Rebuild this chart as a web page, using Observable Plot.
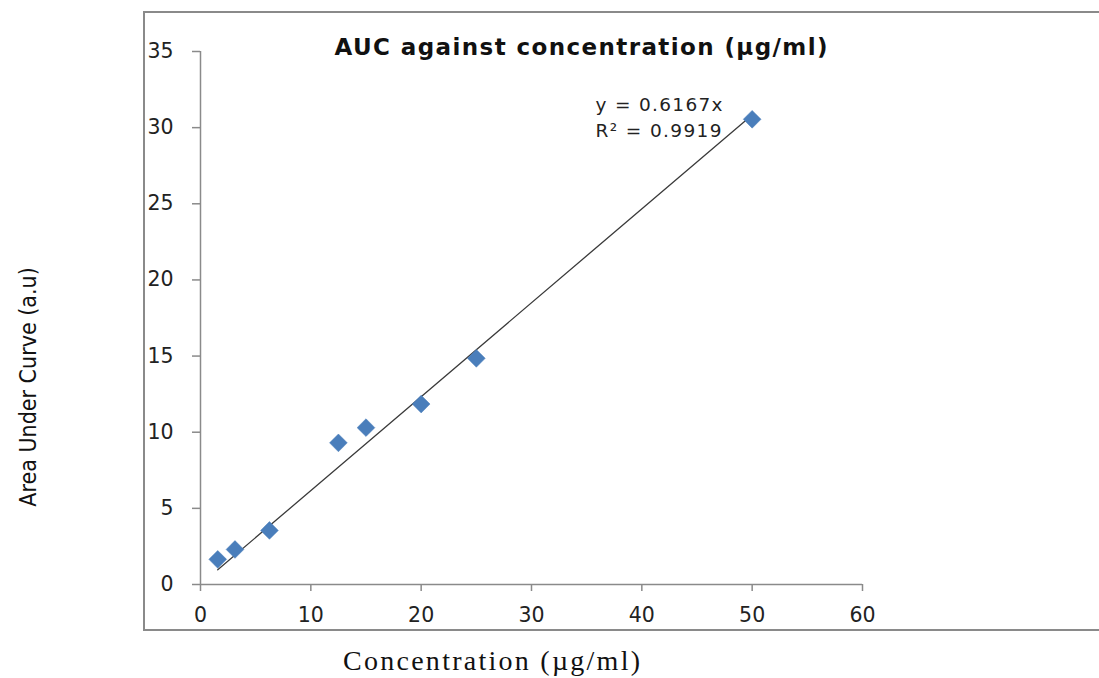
<!DOCTYPE html>
<html>
<head>
<meta charset="utf-8">
<script src="https://cdn.jsdelivr.net/npm/d3@7"></script>
<script src="https://cdn.jsdelivr.net/npm/@observablehq/plot@0.6"></script>
<style>
  html, body { margin: 0; padding: 0; background: #fff; overflow: hidden; }
  #wrap { position: relative; width: 1099px; height: 678px; }
  #box { position: absolute; left: 143px; top: 11px; width: 1000px; height: 620px; border: 2px solid #8a8a8a; box-sizing: border-box; }
  #chart { position: absolute; left: 0; top: 0; }
</style>
</head>
<body>
<div id="wrap"><div id="box"></div><div id="chart"></div></div>
<script>
const concentration = [1.5625, 3.125, 6.25, 12.5, 15, 20, 25, 50];
const auc = [1.65, 2.3, 3.55, 9.3, 10.3, 11.85, 14.85, 30.55];
const xTicks = [0, 10, 20, 30, 40, 50, 60];
const yTicks = [0, 5, 10, 15, 20, 25, 30, 35];
const slope = 0.6167;
const rSquared = 0.9919;
const titleText = "AUC against concentration (µg/ml)";
const xLabel = "Concentration (µg/ml)";
const yLabel = "Area Under Curve (a.u)";
const eqText = `y = ${slope}x`;
const r2Text = `R² = ${rSquared}`;

const points = concentration.map((c, i) => ({x: c, y: auc[i]}));
const xMin = d3.min(concentration), xMax = d3.max(concentration);
const trend = [{x: xMin, y: slope * xMin}, {x: xMax, y: slope * xMax}];

const axisColor = "#8a8a8a";
const tickFont = "DejaVu Sans, Verdana, sans-serif";

const chart = Plot.plot({
  width: 1099,
  height: 678,
  marginLeft: 200,
  marginRight: 237,
  marginTop: 51,
  marginBottom: 94,
  style: {background: "transparent", overflow: "visible"},
  x: {domain: [0, 60], ticks: xTicks},
  y: {domain: [0, 35], ticks: yTicks},
  marks: [
    Plot.ruleY([0], {x1: 0, x2: 60, stroke: axisColor, strokeWidth: 1.5}),
    Plot.ruleX([0], {y1: 0, y2: 35, stroke: axisColor, strokeWidth: 1.5}),
    Plot.axisX({ticks: xTicks, tickSize: 7, tickPadding: 16, stroke: axisColor, strokeWidth: 1.5, fill: "#222", fontSize: 20.5, fontFamily: tickFont, label: null}),
    Plot.axisY({ticks: yTicks, tickSize: 8, tickPadding: 19, stroke: axisColor, strokeWidth: 1.5, fill: "#222", fontSize: 20.5, fontFamily: tickFont, label: null}),
    Plot.line(trend, {x: "x", y: "y", stroke: "#3a3a3a", strokeWidth: 1.3}),
    Plot.dot(points, {x: "x", y: "y", symbol: "diamond2", r: 8, fill: "#4a7ebb", stroke: "#4a7ebb", strokeWidth: 0.5}),
    Plot.text([titleText], {frameAnchor: "top-left", dx: 134, dy: -13, textAnchor: "start", fontSize: 23, fontWeight: "bold", fontFamily: tickFont, fill: "#111"}),
    Plot.text([eqText], {frameAnchor: "top-left", dx: 395, dy: 46, textAnchor: "start", fontSize: 18.5, fontFamily: tickFont, fill: "#222"}),
    Plot.text([r2Text], {frameAnchor: "top-left", dx: 395, dy: 72, textAnchor: "start", fontSize: 18.5, fontFamily: tickFont, fill: "#222"}),
    Plot.text([xLabel], {frameAnchor: "bottom", dx: -40, dy: 85, fontSize: 28, fontFamily: "Liberation Serif, Times New Roman, serif", fill: "#111"}),
    Plot.text([yLabel], {frameAnchor: "left", textAnchor: "middle", dx: -172, dy: 69, rotate: -90, fontSize: 23, fontFamily: "DejaVu Sans Condensed, Liberation Sans Narrow, sans-serif", fontStretch: "condensed", fill: "#111"})
  ]
});
const targetLengths = new Map([[titleText, 493], [eqText, 127], [r2Text, 126], [xLabel, 297]]);
d3.select(chart).selectAll("text").each(function () {
  const len = targetLengths.get(this.textContent);
  if (len) d3.select(this).attr("textLength", len).attr("lengthAdjust", "spacing");
});
document.getElementById("chart").appendChild(chart);
</script>
</body>
</html>
